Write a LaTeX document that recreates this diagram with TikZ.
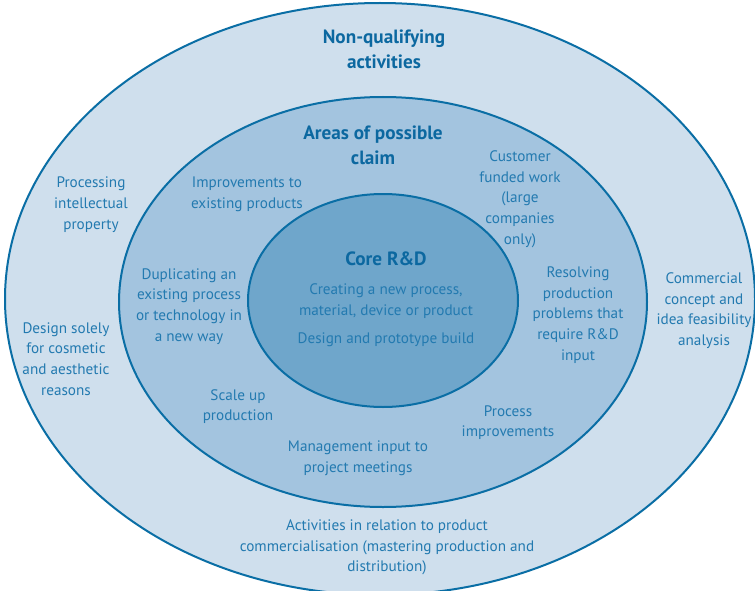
\documentclass[tikz,border=0pt]{standalone}
\usepackage{fontspec}
\setmainfont{PT Sans}
\definecolor{edgeblue}{RGB}{10,110,165}
\definecolor{outerfill}{RGB}{207,223,237}
\definecolor{midfill}{RGB}{163,196,223}
\definecolor{corefill}{RGB}{111,166,203}
\definecolor{txtblue}{RGB}{35,122,176}
\definecolor{ttlblue}{RGB}{12,104,160}
\tikzset{
  ring/.style={draw=edgeblue, line width=2pt},
  lbl/.style={align=center, inner sep=0pt, text=txtblue, font=\fontsize{15.2}{20.7}\selectfont},
  ttl/.style={align=center, inner sep=0pt, text=ttlblue, font=\fontsize{19.2}{25}\selectfont\bfseries},
}
\begin{document}
\begin{tikzpicture}[x=1pt,y=-1pt]
\useasboundingbox (0,0) rectangle (755,591);
\fill[white] (0,0) rectangle (755,591);
\draw[ring, fill=outerfill] (380,299) ellipse [x radius=375pt, y radius=296pt];
\draw[ring, fill=midfill] (383,302) ellipse [x radius=264pt, y radius=205pt];
\draw[ring, fill=corefill] (383,300.5) ellipse [x radius=135pt, y radius=106.5pt];

\node[ttl] (nq) at (384,49.5) {Non-qualifying\\activities};
\node[ttl] (ap) at (373,145) {Areas of possible\\claim};
\node[ttl] (core) at (386,259) {Core R\&D};
\node[lbl] (create) at (386,301) {Creating a new process,\\material, device or product};
\node[lbl] (design) at (386,340) {Design and prototype build};

\node[lbl] (impr) at (247,194) {Improvements to\\existing products};
\node[lbl] (cust) at (520,199) {Customer\\funded work\\(large\\companies\\only)};
\node[lbl] (proc) at (91,204.5) {Processing\\intellectual\\property};
\node[lbl] (dup) at (189,306.5) {Duplicating an\\existing process\\or technology in\\a new way};
\node[lbl] (res) at (578,315) {Resolving\\production\\problems that\\require R\&D\\input};
\node[lbl] (comm) at (704,310.5) {Commercial\\concept and\\idea feasibility\\analysis};
\node[lbl] (cosm) at (66,359) {Design solely\\for cosmetic\\and aesthetic\\reasons};
\node[lbl] (scale) at (238,406.5) {Scale up\\production};
\node[lbl] (pimp) at (508,422.5) {Process\\improvements};
\node[lbl] (mgmt) at (358,458.5) {Management input to\\project meetings};
\node[lbl] (act) at (387,547.5) {Activities in relation to product\\commercialisation (mastering production and\\distribution)};
\end{tikzpicture}
\end{document}
